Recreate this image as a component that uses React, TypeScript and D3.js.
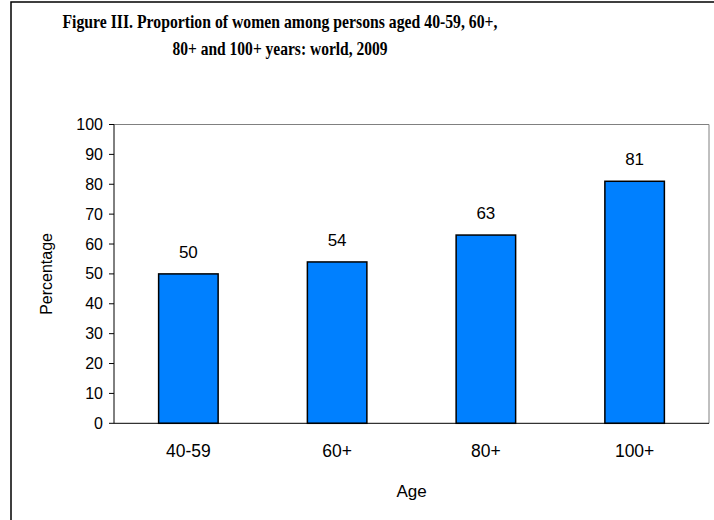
import React from "react";
import * as d3 from "d3";

const categories = ["40-59", "60+", "80+", "100+"];
const values = [50, 54, 63, 81];
const valueLabels = ["50", "54", "63", "81"];
const yTicks = [0, 10, 20, 30, 40, 50, 60, 70, 80, 90, 100];
const titleLines = [
  "Figure III. Proportion of women among persons aged 40-59, 60+,",
  "80+ and 100+ years: world, 2009",
];
const titleWidths = [435, 215];
const xTitle = "Age";
const yTitle = "Percentage";

export default function App() {
  const W = 714, H = 520;
  const left = 114, right = 709, top = 124.5, bottom = 423.3;
  const x = d3.scaleBand<string>().domain(categories).range([left, right]).paddingInner(0.6).paddingOuter(0.3);
  const y = d3.scaleLinear().domain([0, 100]).range([bottom, top]);
  const sans = "'Liberation Sans', Arial, sans-serif";
  return (
    <svg width={W} height={H} style={{ position: "absolute", left: 0, top: 0, background: "#fff" }}>
      <rect x={0} y={0} width={W} height={H} fill="#fff" />
      <rect x={11} y={2} width={W + 20} height={H + 20} fill="none" stroke="#000" strokeWidth={1.5} />
      {titleLines.map((t, i) => (
        <text key={i} x={280} y={28 + i * 27} textAnchor="middle" fontFamily="'Liberation Serif', 'Times New Roman', serif" fontWeight="bold" fontSize={19} textLength={titleWidths[i]} lengthAdjust="spacingAndGlyphs">
          {t}
        </text>
      ))}
      {/* plot frame */}
      <line x1={left} x2={right} y1={top} y2={top} stroke="#808080" strokeWidth={1} />
      <line x1={right} x2={right} y1={top} y2={bottom} stroke="#808080" strokeWidth={1} />
      {/* bars */}
      {categories.map((c, i) => (
        <rect key={c} x={x(c)} y={y(values[i])} width={x.bandwidth()} height={bottom - y(values[i])} fill="#0080FF" stroke="#000" strokeWidth={1.5} />
      ))}
      {categories.map((c, i) => (
        <text key={"v" + c} x={(x(c) as number) + x.bandwidth() / 2} y={y(values[i]) - 16} textAnchor="middle" fontFamily={sans} fontSize={17} fill="#000">
          {valueLabels[i]}
        </text>
      ))}
      {/* y axis */}
      <line x1={left} x2={left} y1={top} y2={bottom} stroke="#000" strokeWidth={1} />
      {yTicks.map((t) => (
        <g key={t}>
          <line x1={left - 5} x2={left} y1={y(t)} y2={y(t)} stroke="#000" />
          <text x={left - 11} y={y(t) + 5.5} textAnchor="end" fontFamily={sans} fontSize={16} fill="#000">
            {t}
          </text>
        </g>
      ))}
      {/* x axis */}
      <line x1={left} x2={right} y1={bottom} y2={bottom} stroke="#000" strokeWidth={1} />
      {categories.map((c) => (
        <text key={"x" + c} x={(x(c) as number) + x.bandwidth() / 2} y={457} textAnchor="middle" fontFamily={sans} fontSize={17.5} fill="#000">
          {c}
        </text>
      ))}
      <text x={(left + right) / 2} y={497} textAnchor="middle" fontFamily={sans} fontSize={17} fill="#000">
        {xTitle}
      </text>
      <text transform={`translate(52, ${(top + bottom) / 2}) rotate(-90)`} textAnchor="middle" fontFamily={sans} fontSize={16} fill="#000">
        {yTitle}
      </text>
    </svg>
  );
}
